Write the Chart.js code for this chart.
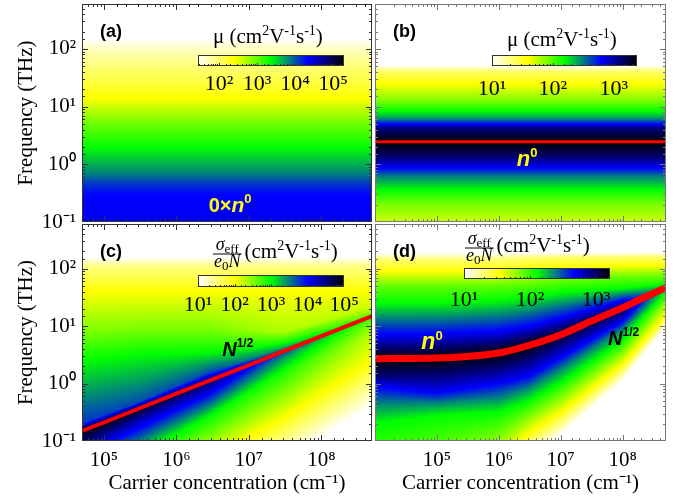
<!DOCTYPE html>
<html>
<head>
<meta charset="utf-8">
<script src="https://cdn.jsdelivr.net/npm/chart.js@4.4.0/dist/chart.umd.min.js"></script>
<style>
  body { margin: 0; background: #fff; }
  #fig { position: relative; width: 691px; height: 502px; overflow: hidden; }
  #fig canvas { position: absolute; }
</style>
</head>
<body>
<div id="fig">
  <canvas id="pa" width="374" height="240" style="left:0;top:0"></canvas>
  <canvas id="pb" width="317" height="240" style="left:374px;top:0"></canvas>
  <canvas id="pc" width="374" height="288" style="left:0;top:214px"></canvas>
  <canvas id="pd" width="317" height="288" style="left:374px;top:214px"></canvas>
  <canvas id="cba" width="186" height="85" style="left:178px;top:11px"></canvas>
  <canvas id="cbb" width="185" height="85" style="left:472px;top:11px"></canvas>
  <canvas id="cbc" width="186" height="86" style="left:178px;top:231px"></canvas>
  <canvas id="cbd" width="186" height="85" style="left:444px;top:224px"></canvas>
</div>
<script>
// ---------- data ----------
// (a) mobility vs frequency, same for every carrier concentration
const freqA = [0.1, 0.3, 0.45, 0.7, 2.0, 5.5, 14, 45, 100, 150, 600];
const muA   = [23300, 21400, 13700, 6800, 2340, 810, 257, 97, 48, 28, 28];

// (b) resonance at n0, same for every carrier concentration
const freqB = [0.1, 0.2, 0.36, 0.63, 0.9, 1.4, 2.45, 4.2, 5.2, 6.3, 8.3, 12.6, 25, 40, 52, 600];
const muB   = [52, 80, 155, 316, 680, 1390, 2400, 1240, 517, 268, 155, 80, 39, 23, 10, 10];
const lineBN = [1e4, 5e8];
const lineBF = [2.45, 2.45];

// (c) profiles at a few carrier concentrations (freq in THz, value in cm2/Vs)
const colsC = [5e4, 3e5, 3e6, 3e7, 5e8];
const freqC = [
  [1000, 158, 112, 40, 7.9, 2.5, 0.2, 0.15, 0.089, 0.025, 0.0063, 0.002, 0.0001],
  [1000, 158, 112, 40, 8.9, 3.2, 0.47, 0.367, 0.22, 0.063, 0.014, 0.0045, 0.0001],
  [1000, 158, 112, 40, 8.9, 3.5, 1.6, 1.16, 0.74, 0.28, 0.05, 0.016, 0.0001],
  [1000, 158, 112, 40, 7.9, 5.2, 4.2, 3.67, 2.8, 1.6, 0.25, 0.045, 0.0001],
  [1000, 158, 112, 40, 22, 18, 15.8, 15, 11.2, 7.1, 2.5, 0.4, 0.0001]
];
const muC = [
  [10, 10, 30, 100, 330, 1000, 6300, 100000, 33000, 1000, 100, 10, 10],
  [10, 10, 30, 100, 330, 1000, 5000, 83000, 19000, 1200, 100, 10, 10],
  [10, 10, 30, 100, 330, 1000, 5200, 40000, 13000, 1000, 100, 10, 10],
  [10, 10, 30, 100, 210, 830, 2100, 6300, 2500, 830, 100, 10, 10],
  [10, 10, 30, 100, 158, 250, 400, 630, 330, 190, 100, 10, 10]
];
const lineCN = [5e4, 1e5, 1e6, 1e7, 1e8, 5e8];
const lineCF = [0.15, 0.21, 0.67, 2.1, 6.7, 15];

// (d)
const colsD = [1e4, 1e5, 1e6, 3e6, 1e7, 1e8, 5e8];
const freqD = [
  [1000, 190, 141, 89, 50, 25, 7.1, 2.7, 1.41, 0.89, 0.45, 0.2, 0.0032, 0.0001],
  [1000, 190, 141, 89, 50, 25, 7.4, 2.78, 1.32, 0.68, 0.46, 0.28, 0.016, 0.0001],
  [1000, 190, 141, 89, 52, 28, 8.3, 3.4, 1.78, 1.0, 0.56, 0.32, 0.063, 0.0063],
  [1000, 190, 151, 95, 56, 32, 10, 4.6, 2.5, 1.32, 0.83, 0.5, 0.14, 0.05],
  [1000, 190, 158, 105, 63, 38, 14, 7.1, 4.8, 2.8, 1.78, 1.05, 0.32, 0.126],
  [1000, 190, 158, 112, 71, 45, 28, 21, 15.8, 11.2, 8.9, 5.6, 2.2, 1.12],
  [1000, 200, 158, 112, 79, 60, 52, 47, 40, 33, 28, 24, 15.8, 9.5]
];
const muD = [
  [10, 10, 21, 36, 77, 128, 455, 1620, 970, 455, 235, 128, 46, 10],
  [10, 10, 21, 36, 77, 128, 455, 1620, 880, 455, 235, 128, 46, 10],
  [10, 10, 21, 36, 77, 128, 455, 1620, 880, 455, 235, 128, 46, 10],
  [10, 10, 21, 36, 77, 128, 455, 1620, 880, 455, 235, 128, 36, 10],
  [10, 10, 21, 36, 77, 128, 455, 1390, 880, 455, 235, 128, 36, 10],
  [10, 10, 21, 36, 77, 128, 455, 1130, 760, 390, 235, 128, 36, 10],
  [10, 10, 21, 36, 69, 99, 128, 165, 128, 99, 77, 59, 36, 10]
];
const lineDN = [1e4, 1e5, 3e5, 1e6, 3e6, 1e7, 3e7, 1e8, 2e8, 5e8];
const lineDF = [2.7, 2.78, 2.95, 3.4, 4.6, 7.1, 12, 21, 30, 47];

// axis and colour bar ranges
const freqRange = [0.1, 600];
const concLeft = [5e4, 5e8];
const concRight = [1e4, 5e8];
const cbA = [28, 195000];
const cbB = [10, 2400];
const cbC = [10, 100000];
const cbD = [10, 1620];

// ---------- helpers ----------
const SERIF = '"Liberation Serif", "Times New Roman", serif';
const SANS = '"Liberation Sans", Arial, sans-serif';
const SUP = {'-': '⁻', '0': '⁰', '1': '¹', '2': '²', '3': '³', '4': '⁴', '5': '⁵', '6': '⁶', '7': '⁷', '8': '⁸', '9': '⁹'};

const isPow = v => Math.abs(Math.log10(v) - Math.round(Math.log10(v))) < 1e-6;
const pow10Label = v => isPow(v) ? '10' + String(Math.round(Math.log10(v))).split('').map(c => SUP[c]).join('') : '';

const stops = [[0, [255, 255, 255]], [0.25, [255, 255, 0]], [0.5, [0, 255, 0]], [0.75, [0, 0, 255]], [1, [0, 0, 0]]];
function colorAt(t) {
  t = Math.max(0, Math.min(1, t));
  for (let k = 0; k < stops.length - 1; k++) {
    const [t0, c0] = stops[k], [t1, c1] = stops[k + 1];
    if (t <= t1) {
      const u = (t - t0) / (t1 - t0);
      return [0, 1, 2].map(i => Math.round(c0[i] + (c1[i] - c0[i]) * u));
    }
  }
  return stops[stops.length - 1][1];
}

// profile columns -> function of log10(N) giving node positions and log values
function field(cols, freqs, mus) {
  const cl = cols.map(Math.log10);
  const P = freqs.map(r => r.map(Math.log10));
  const V = mus.map(r => r.map(Math.log10));
  return lx => {
    if (cl.length === 1) return {p: P[0], v: V[0]};
    let j = 0;
    while (j < cl.length - 2 && lx > cl[j + 1]) j++;
    const t = Math.max(0, Math.min(1, (lx - cl[j]) / (cl[j + 1] - cl[j])));
    return {
      p: P[j].map((a, k) => a + (P[j + 1][k] - a) * t),
      v: V[j].map((a, k) => a + (V[j + 1][k] - a) * t)
    };
  };
}
function evalProf(pr, ly) {
  const p = pr.p, v = pr.v, n = p.length;
  for (let k = 0; k < n - 1; k++) {
    const a = p[k], b = p[k + 1];
    if (ly >= Math.min(a, b) && ly <= Math.max(a, b)) {
      const t = a === b ? 0 : (ly - a) / (b - a);
      return v[k] + (v[k + 1] - v[k]) * t;
    }
  }
  const asc = p[n - 1] > p[0];
  if (asc) return ly < p[0] ? v[0] : v[n - 1];
  return ly > p[0] ? v[0] : v[n - 1];
}

function heat(fn, range) {
  return {
    id: 'heat',
    beforeDatasetsDraw(chart) {
      const {ctx, chartArea: a, scales: {x, y}} = chart;
      const w = Math.round(a.right - a.left), h = Math.round(a.bottom - a.top);
      const off = document.createElement('canvas');
      off.width = w; off.height = h;
      const octx = off.getContext('2d');
      const img = octx.createImageData(w, h);
      const lmin = Math.log10(range[0]), lmax = Math.log10(range[1]);
      const rows = [];
      for (let j = 0; j < h; j++) rows.push(Math.log10(y.getValueForPixel(a.top + j + 0.5)));
      for (let i = 0; i < w; i++) {
        const pr = fn(Math.log10(x.getValueForPixel(a.left + i + 0.5)));
        for (let j = 0; j < h; j++) {
          const c = colorAt((evalProf(pr, rows[j]) - lmin) / (lmax - lmin));
          const k = (j * w + i) * 4;
          img.data[k] = c[0]; img.data[k + 1] = c[1]; img.data[k + 2] = c[2]; img.data[k + 3] = 255;
        }
      }
      octx.putImageData(img, 0, 0);
      ctx.drawImage(off, a.left, a.top);
    }
  };
}

function richWidth(ctx, parts) {
  let w = 0;
  parts.forEach(p => { ctx.font = p.f; w += ctx.measureText(p.t).width; });
  return w;
}
function drawRich(ctx, x, y, parts, color) {
  ctx.fillStyle = color || '#000';
  ctx.textBaseline = 'alphabetic';
  ctx.textAlign = 'left';
  parts.forEach(p => {
    ctx.font = p.f;
    ctx.fillText(p.t, x, y + (p.dy || 0));
    x += ctx.measureText(p.t).width;
  });
  return x;
}

function decor(o) {
  return {
    id: 'decor',
    afterDatasetsDraw(chart) {
      const {ctx, chartArea: a, scales: {x, y}} = chart;
      ctx.save();
      ctx.strokeStyle = o.frame;
      ctx.lineWidth = 1;
      ctx.beginPath();
      x.ticks.forEach(t => {
        const p = Math.round(x.getPixelForValue(t.value)) + 0.5;
        if (p < a.left + 1 || p > a.right - 1) return;
        const L = isPow(t.value) ? 6 : 3;
        ctx.moveTo(p, a.bottom); ctx.lineTo(p, a.bottom - L);
        ctx.moveTo(p, a.top); ctx.lineTo(p, a.top + L);
      });
      y.ticks.forEach(t => {
        const p = Math.round(y.getPixelForValue(t.value)) + 0.5;
        if (p < a.top + 1 || p > a.bottom - 1) return;
        const L = isPow(t.value) ? 6 : 3;
        ctx.moveTo(a.left, p); ctx.lineTo(a.left + L, p);
        ctx.moveTo(a.right, p); ctx.lineTo(a.right - L, p);
      });
      ctx.stroke();
      ctx.strokeRect(a.left + 0.5, a.top + 0.5, a.right - a.left - 1, a.bottom - a.top - 1);
      drawRich(ctx, a.left + 18, a.top + 33, [{t: o.letter, f: 'bold 18px ' + SANS}]);
      o.notes.forEach(nt => drawRich(ctx, x.getPixelForValue(nt.n), y.getPixelForValue(nt.f), nt.parts, nt.color));
      ctx.restore();
    }
  };
}

function panel(id, o) {
  return new Chart(document.getElementById(id), {
    type: 'scatter',
    data: {
      datasets: o.lines.map(l => ({
        data: l.n.map((n, i) => ({x: n, y: l.f[i]})),
        showLine: true, borderColor: '#ff0000', borderWidth: l.w,
        pointRadius: 0, tension: l.tension || 0, clip: 0, borderCapStyle: 'butt'
      }))
    },
    options: {
      responsive: false, animation: false, events: [],
      layout: {padding: o.pad},
      plugins: {legend: {display: false}, tooltip: {enabled: false}},
      scales: {
        x: {
          type: 'logarithmic', min: o.xr[0], max: o.xr[1],
          afterFit: s => { s.height = o.xH; s.paddingLeft = 0; s.paddingRight = 0; },
          grid: {display: false, drawTicks: false}, border: {display: false},
          ticks: {display: o.xLabels, autoSkip: false, maxRotation: 0, padding: 7, color: '#000',
            font: {family: SERIF, size: 21}, callback: v => v > o.xr[0] * 1.01 ? pow10Label(v) : ''},
          title: {display: o.xLabels, text: 'Carrier concentration (cm⁻¹)', color: '#000',
            font: {family: SERIF, size: 21}, padding: {top: 0, bottom: 6}}
        },
        y: {
          type: 'logarithmic', min: freqRange[0], max: freqRange[1],
          afterFit: s => { s.width = o.yW; s.paddingTop = 0; s.paddingBottom = 0; },
          grid: {display: false, drawTicks: false}, border: {display: false},
          ticks: {display: o.yLabels, autoSkip: false, padding: 6, color: '#000',
            font: {family: SERIF, size: 21}, callback: v => pow10Label(v)},
          title: {display: o.yLabels, text: 'Frequency (THz)', color: '#000',
            font: {family: SERIF, size: 21}, padding: {top: 14, bottom: 0}}
        }
      }
    },
    plugins: [heat(o.field, o.cb), decor(o)]
  });
}

function unitParts(prefix) {
  const M = '21px ' + SERIF, S = '14px ' + SERIF;
  return [{t: prefix + '(cm', f: M}, {t: '2', f: S, dy: -8}, {t: 'V', f: M}, {t: '-1', f: S, dy: -8},
    {t: 's', f: M}, {t: '-1', f: S, dy: -8}, {t: ')', f: M}];
}

function colorbar(id, o) {
  const cbPlug = {
    id: 'cb',
    afterDraw(chart) {
      const {ctx, chartArea: a, scales: {x}} = chart;
      const w = Math.round(a.right - a.left), h = Math.round(a.bottom - a.top);
      const lmin = Math.log10(o.range[0]), lmax = Math.log10(o.range[1]);
      ctx.save();
      for (let i = 0; i < w; i++) {
        const c = colorAt((Math.log10(x.getValueForPixel(a.left + i + 0.5)) - lmin) / (lmax - lmin));
        ctx.fillStyle = 'rgb(' + c.join(',') + ')';
        ctx.fillRect(a.left + i, a.top, 1, h);
      }
      ctx.strokeStyle = '#333';
      ctx.lineWidth = 1;
      ctx.beginPath();
      x.ticks.forEach(t => {
        const p = Math.round(x.getPixelForValue(t.value)) + 0.5;
        if (p < a.left + 1 || p > a.right - 1) return;
        const L = isPow(t.value) ? 3 : 2;
        ctx.moveTo(p, a.bottom); ctx.lineTo(p, a.bottom - L);
      });
      ctx.stroke();
      ctx.strokeRect(a.left + 0.5, a.top + 0.5, w - 1, h - 1);
      let tx = a.left + o.titleDx;
      const base = a.top + o.titleDy;
      if (o.frac) {
        const I = 'italic 18px ' + SERIF, s = '13px ' + SERIF;
        const num = [{t: 'σ', f: I}, {t: 'eff', f: s, dy: 3}];
        const den = [{t: 'e', f: I}, {t: '0', f: s, dy: 3}, {t: 'N', f: I}];
        const wn = richWidth(ctx, num), wd = richWidth(ctx, den), fw = Math.max(wn, wd) + 2;
        const bar = base - 4;
        drawRich(ctx, tx + (fw - wn) / 2, bar - 4, num);
        drawRich(ctx, tx + (fw - wd) / 2, bar + 13, den);
        ctx.fillStyle = '#000';
        ctx.fillRect(tx, bar - 0.5, fw, 1);
        tx += fw + 3;
        drawRich(ctx, tx, base, unitParts(''));
      } else {
        drawRich(ctx, tx, base, unitParts('μ '));
      }
      ctx.restore();
    }
  };
  return new Chart(document.getElementById(id), {
    type: 'scatter',
    data: {datasets: []},
    options: {
      responsive: false, animation: false, events: [],
      layout: {padding: {left: 20, right: 20, top: 44, bottom: 0}},
      plugins: {legend: {display: false}, tooltip: {enabled: false}},
      scales: {
        x: {
          type: 'logarithmic', min: o.range[0], max: o.range[1],
          afterFit: s => { s.height = 30; s.paddingLeft = 0; s.paddingRight = 0; },
          grid: {display: false, drawTicks: false}, border: {display: false},
          ticks: {autoSkip: false, maxRotation: 0, padding: o.labelPad, color: '#000',
            font: {family: SERIF, size: 22}, callback: v => pow10Label(v)}
        },
        y: {display: false}
      }
    },
    plugins: [cbPlug]
  });
}

// ---------- build ----------
const Y = '#ffff00';
const nSup = (size) => [{t: 'n', f: 'italic bold ' + size + 'px ' + SANS}, {t: '0', f: 'bold 13px ' + SANS, dy: -9}];
const halfSup = [{t: 'N', f: 'italic bold 20px ' + SANS}, {t: '1/2', f: 'bold 12px ' + SANS, dy: -9}];

panel('pa', {
  xr: concLeft, pad: {left: 0, right: 2, top: 4, bottom: 0}, yW: 82, xH: 18,
  xLabels: false, yLabels: true, frame: '#333', letter: '(a)',
  field: field([1], [freqA], [muA]), cb: cbA, lines: [],
  notes: [{n: 2.8e6, f: 0.15, color: Y, parts: [{t: '0×', f: 'bold 20px ' + SANS}].concat(nSup(21))}]
});
panel('pb', {
  xr: concRight, pad: {left: 1, right: 25, top: 4, bottom: 0}, yW: 0, xH: 18,
  xLabels: false, yLabels: false, frame: '#777', letter: '(b)',
  field: field([1], [freqB], [muB]), cb: cbB,
  lines: [{n: lineBN, f: lineBF, w: 3}],
  notes: [{n: 1.95e6, f: 0.94, color: Y, parts: nSup(22)}]
});
panel('pc', {
  xr: concLeft, pad: {left: 0, right: 2, top: 10, bottom: 0}, yW: 82, xH: 61,
  xLabels: true, yLabels: true, frame: '#333', letter: '(c)',
  field: field(colsC, freqC, muC), cb: cbC,
  lines: [{n: lineCN, f: lineCF, w: 4}],
  notes: [{n: 4.3e6, f: 2.97, color: '#000', parts: halfSup}]
});
panel('pd', {
  xr: concRight, pad: {left: 1, right: 25, top: 10, bottom: 0}, yW: 0, xH: 61,
  xLabels: true, yLabels: false, frame: '#777', letter: '(d)',
  field: field(colsD, freqD, muD), cb: cbD,
  lines: [{n: lineDN, f: lineDF, w: 7, tension: 0.3}],
  notes: [
    {n: 5.6e4, f: 3.93, color: Y, parts: nSup(23)},
    {n: 5.8e7, f: 4.6, color: '#000', parts: halfSup}
  ]
});

colorbar('cba', {range: cbA, labelPad: 5, titleDx: 15, titleDy: -12});
colorbar('cbb', {range: cbB, labelPad: 10, titleDx: 15, titleDy: -9});
colorbar('cbc', {range: cbC, labelPad: 5, titleDx: 15, titleDy: -17, frac: true});
colorbar('cbd', {range: cbD, labelPad: 8, titleDx: 1, titleDy: -16, frac: true});
</script>
</body>
</html>
